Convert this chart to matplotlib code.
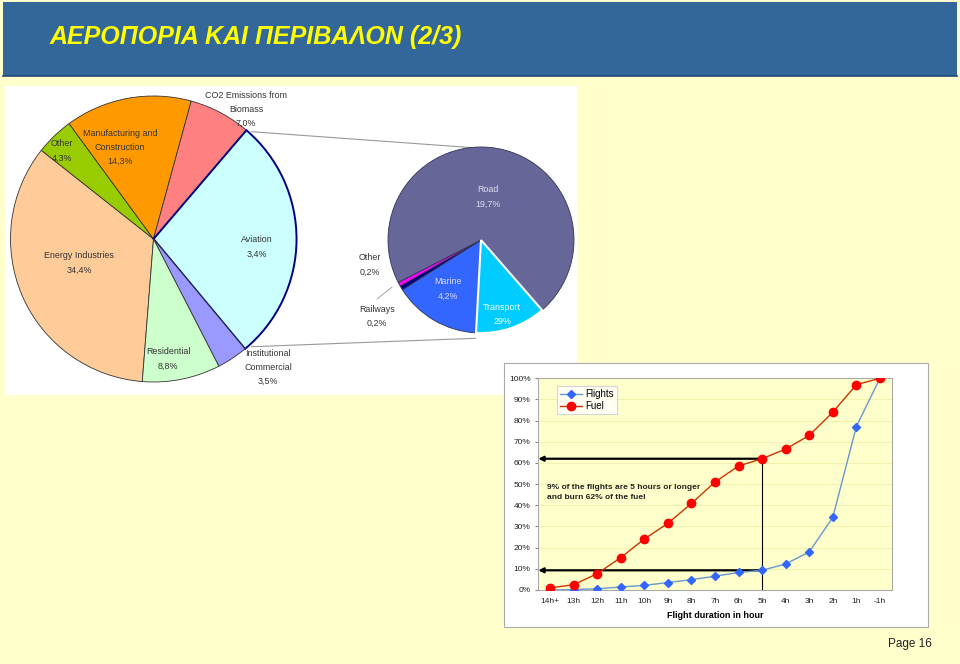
import matplotlib
matplotlib.use("Agg")
import matplotlib.pyplot as plt
from matplotlib.patches import Rectangle
from matplotlib.ticker import FuncFormatter

# ---------------- data ----------------
title = "ΑΕΡΟΠΟΡΙΑ ΚΑΙ ΠΕΡΙΒΑΛΟΝ (2/3)"

main_names = ["Energy Industries", "Other", "Manufacturing and\nConstruction",
              "CO2 Emissions from\nBiomass", "Aviation", "Institutional\nCommercial",
              "Residential"]
main_values = [34.4, 4.3, 14.3, 7.0, 27.7, 3.5, 8.8]
main_shown = ["34,4%", "4,3%", "14,3%", "7,0%", "3,4%", "3,5%", "8,8%"]
main_colors = ["#FFCC99", "#99CC00", "#FF9900", "#FF8080", "#CCFFFF", "#9999FF", "#CCFFCC"]

tr_names = ["Transport", "Marine", "Railways", "Other", "Road"]
tr_values = [3.4, 4.2, 0.2, 0.2, 19.7]
tr_shown = ["29%", "4,2%", "0,2%", "0,2%", "19,7%"]
tr_colors = ["#00CCFF", "#3366FF", "#000080", "#FF00FF", "#666699"]

hours = ["14h+", "13h", "12h", "11h", "10h", "9h", "8h", "7h", "6h", "5h",
         "4h", "3h", "2h", "1h", "-1h"]
flights = [0.0, 0.2, 0.6, 1.4, 2.2, 3.5, 4.9, 6.5, 8.3, 9.3, 12.3, 18.0, 34.3, 77.2, 100.0]
fuel = [1.0, 2.5, 7.7, 15.3, 24.1, 31.5, 40.9, 51.0, 58.6, 62.0, 66.6, 73.0, 84.0, 97.0, 100.0]

W, H = 960, 664
plt.rcParams['font.family'] = ['Liberation Sans', 'DejaVu Sans']
fig = plt.figure(figsize=(W / 100, H / 100), dpi=100)
fig.patch.set_facecolor("#FFFFCC")

# full-figure axes in pixel coordinates (y up)
bg = fig.add_axes([0, 0, 1, 1])
bg.set_xlim(0, W)
bg.set_ylim(0, H)
bg.axis("off")

def Y(yp):
    return H - yp

# title bar
bg.add_patch(Rectangle((3, Y(76)), 954, 74, facecolor="#336699", edgecolor="none", zorder=1))
bg.plot([3, 957], [Y(75.5), Y(75.5)], color="#1F4A75", lw=1.2, zorder=2)
bg.text(50, Y(37), title, color="#FFFF00", fontsize=18, fontweight="bold",
        fontstyle="italic", va="center", ha="left", zorder=3)

# panels
bg.add_patch(Rectangle((5, Y(395)), 572, 309, facecolor="white", edgecolor="none", zorder=1))

# ---------------- main pie ----------------
c1 = (153.5, Y(239))
r1 = 143
explode1 = [0, 0, 0, 0, 0.035, 0, 0]
w1, _ = bg.pie(main_values, colors=main_colors, startangle=265.5, counterclock=False,
               center=c1, radius=r1, explode=explode1, frame=True,
               wedgeprops=dict(edgecolor="#333333", linewidth=0.6))
for w in w1:
    w.set_zorder(4)
w1[4].set_edgecolor("#000080")
w1[4].set_linewidth(1.4)

# ---------------- transport pie ----------------
c2 = (481, Y(240))
r2 = 93
explode2 = [0.075, 0, 0, 0, 0]
w2, _ = bg.pie(tr_values, colors=tr_colors, startangle=-48.9, counterclock=False,
               center=c2, radius=r2, explode=explode2, frame=True,
               wedgeprops=dict(edgecolor="#333355", linewidth=0.6))
for w in w2:
    w.set_zorder(4)
w2[0].set_edgecolor("white")
w2[0].set_linewidth(1.5)
w2[0].set_zorder(5)

bg.set_xlim(0, W)
bg.set_ylim(0, H)
bg.set_aspect("auto")
bg.axis("off")

# connector lines
bg.plot([251.6, 481], [Y(131.7), Y(148.3)], color="#999999", lw=0.8, zorder=3)
bg.plot([251.6, 475.4], [Y(346.7), Y(338.3)], color="#999999", lw=0.8, zorder=3)
bg.plot([377, 392], [Y(299), Y(287)], color="#999999", lw=0.6, zorder=3)

# labels
lab_fs = 6.4
tc = "#333333"
main_pos = [(79, 256), (62, 144), (120, 133), (246, 95), (257, 240), (268, 353), (168, 352)]
for name, shown, (x, y) in zip(main_names, main_shown, main_pos):
    lines = name.split("\n") + [shown]
    for i, t in enumerate(lines):
        bg.text(x, Y(y + 14 * i), t, fontsize=lab_fs, color=tc, ha="center", va="center", zorder=6)

tr_pos = [(502, 308), (448, 282), (377, 309), (370, 258), (488, 190)]
tr_tc = ["white", "#DDDDFF", tc, tc, "#DDDDEE"]
for name, shown, (x, y), col in zip(tr_names, tr_shown, tr_pos, tr_tc):
    for i, t in enumerate([name, shown]):
        bg.text(x, Y(y + 14 * i), t, fontsize=lab_fs, color=col, ha="center", va="center", zorder=6)

# ---------------- line chart panel ----------------
bg.add_patch(Rectangle((504, Y(627)), 424, 264, facecolor="white", edgecolor="#AAAAAA",
                       lw=0.8, zorder=1))

ax = fig.add_axes([538.3 / W, (H - 590) / H, 353.4 / W, (590 - 378.3) / H])
ax.set_facecolor("#FFFFCC")
x = list(range(len(hours)))
ax.plot(x, flights, color="#6699CC", lw=1.0, marker="D", markersize=4,
        markerfacecolor="#3366FF", markeredgecolor="#3366FF", label="Flights", zorder=4)
ax.plot(x, fuel, color="#CC3300", lw=1.0, marker="o", markersize=6,
        markerfacecolor="#FF0000", markeredgecolor="#FF0000", label="Fuel", zorder=4)
ax.set_xlim(-0.5, len(hours) - 0.5)
ax.set_ylim(0, 100)
ax.set_yticks(range(0, 101, 10))
ax.yaxis.set_major_formatter(FuncFormatter(lambda v, p: f"{int(v)}%"))
ax.set_xticks(x)
ax.set_xticklabels(hours)
ax.tick_params(axis="both", labelsize=6, length=2, color="#888888", labelcolor="#222222")
ax.tick_params(axis="x", length=0, pad=6)
ax.grid(axis="y", color="#EEEEAA", lw=0.6)
ax.set_axisbelow(True)
for s in ax.spines.values():
    s.set_color("#AAAAAA")
    s.set_linewidth(0.8)
ax.set_xlabel("Flight duration in hour", fontsize=6.5, fontweight="bold", labelpad=4)

# arrows and guide line at 5h
i5 = hours.index("5h")
for v in (fuel[i5], flights[i5]):
    ax.annotate("", xy=(-0.5, v), xytext=(i5, v),
                arrowprops=dict(arrowstyle="-|>", color="black", lw=1.6,
                                mutation_scale=7, shrinkA=0, shrinkB=0), zorder=3)
ax.plot([i5, i5], [0, fuel[i5]], color="black", lw=0.8, zorder=3)
ax.text(-0.13, 50.3, "9% of the flights are 5 hours or longer\nand burn 62% of the fuel",
        fontsize=6, fontweight="bold", color="#222222", ha="left", va="top", linespacing=1.75)

leg = ax.legend(loc="upper left", bbox_to_anchor=(0.04, 0.985), fontsize=7,
                frameon=True, fancybox=False, edgecolor="#CCCCCC", handlelength=2.2,
                borderpad=0.3, labelspacing=0.2, handletextpad=0.4)
leg.get_frame().set_linewidth(0.8)

bg.text(910, Y(644), "Page 16", fontsize=8.5, color="#222222", ha="center", va="center")

fig.savefig("out.png", dpi=100, facecolor=fig.get_facecolor())
